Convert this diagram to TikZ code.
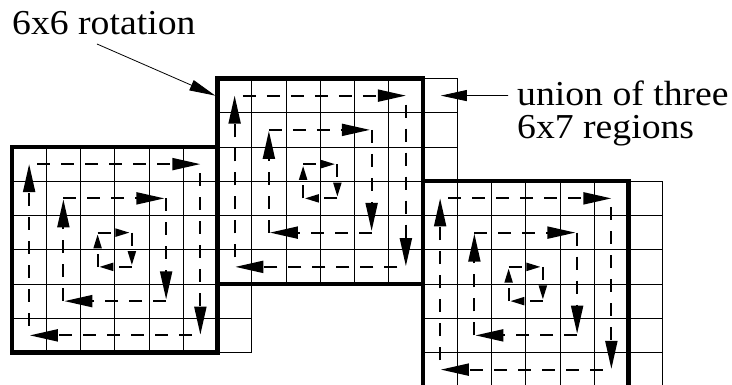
\documentclass[tikz,border=0pt]{standalone}
\usepackage{fontspec}
\setmainfont{Liberation Serif}
\usetikzlibrary{arrows.meta}
\tikzset{
  gridline/.style={line width=0.9pt},
  boxline/.style={line width=4.5pt},
  flow/.style={line width=1.9pt, dash pattern=on 13pt off 11pt, -{Triangle[length=28pt,width=12pt]}},
  flowsmall/.style={line width=1.9pt, dash pattern=on 13pt off 11pt, -{Triangle[length=14pt,width=8pt]}},
  leader/.style={line width=0.8pt, -{Triangle[length=26pt,width=11pt]}},
  txt/.style={font=\fontsize{35}{33}\selectfont, inner sep=0pt, transform shape, xscale=1.077},
}
\begin{document}
\begin{tikzpicture}[x=1pt,y=-1pt]
\useasboundingbox (0,0) rectangle (732,385);
\clip (0,0) rectangle (732,385);
\begin{scope}[shift={(12,147)}, x=34.25pt, y=-34.25pt]
  % grids (6 rows x 7 columns each) and 6x6 rotation boxes
  \foreach \ox/\oy in {0/0, 6/-2, 12/1}{
    \begin{scope}[shift={(\ox,\oy)}]
      \foreach \i in {0,...,7} \draw[gridline] (\i,0) -- (\i,6);
      \foreach \j in {0,...,6} \draw[gridline] (0,\j) -- (7,\j);
    \end{scope}
  }
  \draw[boxline] (0,0) rectangle (6,6);
  \draw[boxline] (6,-2) rectangle (12,4);
  \draw[boxline] (12,1) rectangle (18,7);
  % spirals
  \foreach \ox/\oy in {0/0, 6/-2, 12/1}{
    \begin{scope}[shift={(\ox,\oy)}]
      % outer loop
      \draw[flow] (0.5,5.22) -- (0.5,0.5);
      \draw[flow] (0.74,0.5) -- (5.5,0.5);
      \draw[flow] (5.5,0.76) -- (5.5,5.48);
      \draw[flow] (5.25,5.5) -- (0.52,5.5);
      % middle loop
      \draw[flow] (1.5,4.5) -- (1.5,1.53);
      \draw[flow] (1.5,1.5) -- (4.45,1.5);
      \draw[flow] (4.5,1.5) -- (4.5,4.45);
      \draw[flow] (4.5,4.5) -- (1.53,4.5);
      % inner loop
      \draw[flowsmall] (2.5,3.5) -- (2.5,2.55);
      \draw[flowsmall] (2.5,2.5) -- (3.43,2.5);
      \draw[flowsmall] (3.5,2.5) -- (3.5,3.45);
      \draw[flowsmall] (3.5,3.5) -- (2.55,3.5);
    \end{scope}
  }
  \coordinate (tipA) at ([xshift=-2.2pt]6,-1.5);
  \coordinate (tipB) at (12.52,-1.5);
\end{scope}
\node[txt, anchor=base west] (rot) at (12,35) {6x6 rotation};
\node[txt, anchor=base west, align=left] (uni) at (517,139) {union of three\\6x7 regions};
\coordinate (rotstart) at (97,44);
\coordinate (unistart) at (508,95.5);
\draw[leader] (rotstart) -- (tipA);
\draw[leader] (unistart) -- (tipB);
\end{tikzpicture}
\end{document}
